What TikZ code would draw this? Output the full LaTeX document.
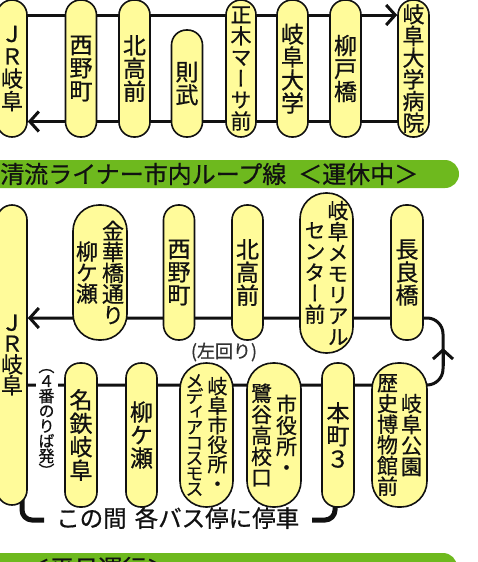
\documentclass[tikz,border=0pt]{standalone}
\usepackage{fontspec}
\setmainfont[FakeBold=0.7]{Noto Sans CJK JP}
\newfontfamily\vjp[RawFeature=+vert,FakeBold=0.7]{Noto Sans CJK JP}
\usetikzlibrary{arrows.meta}
\pgfdeclarelayer{bg}
\pgfsetlayers{bg,main}
\definecolor{pillfill}{HTML}{FFFB9A}
\definecolor{bannergreen}{HTML}{6EB91E}
\definecolor{ink}{HTML}{111111}
\ExplSyntaxOn
\NewDocumentCommand\vt{O{23pt}m}{
  \c_math_toggle_token
  \vcenter{
    \baselineskip=#1 \lineskiplimit=-100pt \lineskip=0pt
    \tl_map_inline:nn {#2} { \hbox_to_wd:nn {1em} { \hss ##1 \hss } }
  }
  \c_math_toggle_token
}
\ExplSyntaxOff
\tikzset{
  pill/.style={draw=ink, line width=1.6pt, fill=pillfill, inner sep=0pt, text=ink,
    font=\vjp\fontsize{23}{23}\selectfont},
  nw/.style={pill, minimum width=31pt, rounded corners=15pt},
  ww/.style={pill, minimum width=54pt, rounded corners=26pt},
  conn/.style={line width=3pt, draw=ink},
  brk/.style={line width=5pt, draw=ink},
  f22/.style={font=\vjp\fontsize{22}{22}\selectfont},
  f21/.style={font=\vjp\fontsize{21}{21}\selectfont},
}
\begin{document}
\begin{tikzpicture}[x=1pt,y=-1pt,>={Straight Barb[length=9pt,width=20pt]}]
\useasboundingbox (0,0) rectangle (478,562);
\clip (0,0) rectangle (478,562);
% ---------- top section ----------
\node[nw,minimum width=30pt,minimum height=137pt,f22] (t1) at (12,68.5) {\vt[22.5pt]{ＪＲ岐阜}};
\node[nw,minimum height=137pt] (t2) at (81,68.5) {\vt{西野町}};
\node[nw,minimum height=137pt] (t3) at (134.5,68.5) {\vt{北高前}};
\node[nw,minimum height=107pt] (t4) at (187,83.5) {\vt{則武}};
\node[nw,minimum width=30pt,minimum height=137pt,f21] (t5) at (241,68.5) {\vt[21.3pt]{正木マーサ前}};
\node[nw,minimum height=137pt] (t6) at (292.5,68.5) {\vt{岐阜大学}};
\node[nw,minimum height=137pt] (t7) at (345.5,68.5) {\vt{柳戸橋}};
\node[nw,minimum height=137pt,f22] (t8) at (413.5,68.5) {\vt[21.7pt]{岐阜大学病院}};
% ---------- banners ----------
\fill[bannergreen,rounded corners=14pt] (-30,160) rectangle (459,188);
\node[anchor=west,inner sep=0pt,text=ink,font=\fontsize{24}{24}\selectfont] (title) at (0,174)
  {清流ライナー市内ループ線\hspace{12pt}＜運休中＞};
\fill[bannergreen,rounded corners=14pt] (-30,553) rectangle (457,610);
\node[anchor=west,inner sep=0pt,text=ink,font=\fontsize{24}{24}\selectfont] (title2) at (26,568)
  {＜平日運行＞};
% ---------- middle section ----------
\node[nw,minimum width=30pt,minimum height=300pt,f22] (m1) at (12,355) {\vt[21pt]{ＪＲ岐阜}};
\node[ww,minimum height=135pt,f22] (m2) at (100,272.5) {\vt[21pt]{柳ケ瀬}\hspace{4pt}\vt[21pt]{金華橋通り}};
\node[nw,minimum height=135pt] (m3) at (179,272.5) {\vt{西野町}};
\node[nw,minimum height=135pt] (m4) at (247.5,272.5) {\vt{北高前}};
\node[ww,minimum width=53pt,minimum height=160pt,f21] (m5) at (326.5,273) {\vt[21pt]{センター前}\hspace{2pt}\vt[21pt]{岐阜メモリアル}};
\node[nw,minimum width=32pt,minimum height=135pt] (m6) at (407,272.5) {\vt{長良橋}};
% ---------- lower row ----------
\node[nw,minimum width=32pt,minimum height=144pt] (b1) at (81,435) {\vt[23.5pt]{名鉄岐阜}};
\node[nw,minimum height=144pt] (b2) at (141.5,435) {\vt{柳ケ瀬}};
\node[ww,minimum width=53pt,minimum height=144pt,font=\vjp\fontsize{20}{20}\selectfont] (b3) at (206.5,435)
  {{\fontsize{18}{18}\selectfont\vt[15.4pt]{メディアコスモス}}\hspace{4pt}\vt[19.5pt]{岐阜市役所・}};
\node[ww,minimum height=144pt,f21] (b4) at (274,435) {\vt[21pt]{鷺谷高校口}\hspace{4pt}\vt[21pt]{市役所・}};
\node[nw,minimum width=32pt,minimum height=144pt] (b5) at (338,435) {\vt{本町３}};
\node[ww,minimum width=55pt,minimum height=144pt,f21] (b6) at (399.5,435) {\vt[20.7pt]{歴史博物館前}\hspace{3pt}\vt[21pt]{岐阜公園}};
% ---------- labels ----------
\node[fill=white,inner sep=0pt,minimum width=22pt,text=ink,font=\vjp\fontsize{16}{16}\selectfont] (l4) at (46.5,423)
  {\vt[15pt]{（４番のりば発）}};
\node[inner sep=0pt,text=black!80,font=\fontsize{18}{18}\selectfont] (lr) at (224,352) {(左回り)};
\node[anchor=west,inner sep=0pt,text=ink,font=\fontsize{23.5}{24}\selectfont] (note) at (56,518)
  {この間\hspace{8pt}各バス停に停車};
% ---------- helper coordinates ----------
\coordinate (ya) at (0,15);
\coordinate (yb) at (0,121.5);
\coordinate (yc) at (0,318);
\coordinate (yd) at (0,385);
\coordinate (rx) at (443,0);
\coordinate (ua) at (443,366);
\coordinate (ub) at (443,348);
\coordinate (bl) at (44,520);
\coordinate (br) at (312,520);
% ---------- connectors ----------
\begin{pgfonlayer}{bg}
\fill[white] (0,0) rectangle (478,562);
\draw[conn,->] (t1.center |- ya) -- (t8.west |- ya);
\draw[conn,->] (t8.center |- yb) -- (t1.east |- yb);
\draw[conn,->,rounded corners=16pt] (m1.east |- yd) -- (rx |- yd) -- (rx |- yc) -- (m1.east |- yc);
\draw[conn,->] (ua) -- (ub);
\draw[brk,rounded corners=10pt] ([xshift=10pt,yshift=12pt]m1.south) |- (bl);
\draw[brk,rounded corners=10pt] ([xshift=-3pt,yshift=10pt]b5.south) |- (br);
\end{pgfonlayer}
\end{tikzpicture}
\end{document}
